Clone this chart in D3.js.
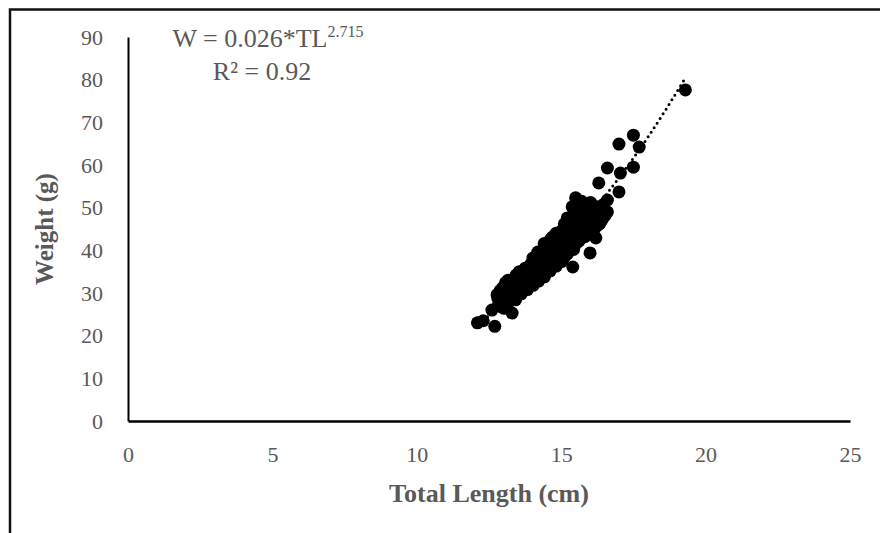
<!DOCTYPE html>
<html>
<head>
<meta charset="utf-8">
<script src="https://cdn.jsdelivr.net/npm/d3@7"></script>
<style>
  body { margin: 0; background: #fff; }
  svg { display: block; font-family: "Liberation Serif", "Times New Roman", serif; }
</style>
</head>
<body>
<div id="chart"></div>
<script>
// ------ DATA ------
// outliers / loose points first, then the dense band
const lengths = [
  12.1, 12.3, 12.7, 12.6, 12.8, 13.3, 13.1, 13.7, 14.5, 14.7, 15.4, 16.0, 16.2,
  15.5, 16.45, 16.6, 16.3, 17.0, 16.6, 17.05, 17.5, 17.0, 17.5, 17.7, 19.3,
  12.83, 12.78, 12.92, 12.88, 13.04, 12.97, 13.02, 13.12, 13.07, 13.18, 13.23, 13.16,
  13.33, 13.27, 13.42, 13.36, 13.44, 13.52, 13.47, 13.55, 13.62, 13.58, 13.65,
  13.72, 13.66, 13.75, 13.83, 13.77, 13.86, 13.92, 13.87, 13.95,
  14.03, 13.97, 14.05, 14.02, 14.12, 14.07, 14.15, 14.22, 14.17, 14.24, 14.19,
  14.33, 14.27, 14.36, 14.42, 14.38, 14.45, 14.41, 14.53, 14.48, 14.55,
  14.62, 14.57, 14.66, 14.63, 14.72, 14.68, 14.75, 14.83, 14.77, 14.86, 14.82,
  14.92, 14.88, 14.95, 15.03, 14.97, 15.05, 15.02, 15.12, 15.07, 15.15, 15.11,
  15.22, 15.17, 15.25, 15.21, 15.32, 15.28, 15.35, 15.43, 15.37, 15.45, 15.41, 15.38,
  15.52, 15.47, 15.55, 15.51, 15.62, 15.58, 15.65, 15.61, 15.72, 15.67, 15.75, 15.71,
  15.82, 15.77, 15.85, 15.81, 15.92, 15.87, 15.95, 16.03, 15.97, 16.05, 16.02,
  16.12, 16.07, 16.15, 16.22, 16.17, 16.25, 16.33, 16.28, 16.42, 16.37, 16.52, 16.47, 16.6
]
const weights = [
  23.0, 23.5, 22.2, 26.0, 28.8, 25.3, 31.9, 34.7, 40.8, 43.1, 36.1, 39.4, 42.9,
  52.3, 48.3, 51.8, 55.8, 53.7, 59.3, 58.1, 59.5, 64.9, 67.0, 64.2, 77.6,
  27.3, 29.6, 26.8, 30.5, 28.2, 31.2, 26.4, 29.0, 32.4, 27.8, 30.0, 33.0,
  29.5, 32.0, 28.4, 31.0, 34.2, 30.2, 33.5, 35.0, 29.8, 32.0, 34.6,
  31.0, 33.6, 35.8, 30.8, 33.0, 35.5, 32.0, 34.5, 36.8,
  31.8, 34.0, 36.5, 38.2, 33.0, 35.5, 37.5, 32.8, 35.0, 37.8, 39.6,
  34.0, 36.5, 38.8, 33.8, 37.0, 39.8, 41.6, 35.5, 38.0, 41.2,
  35.2, 37.5, 40.5, 42.6, 36.5, 39.5, 41.8, 36.3, 38.5, 41.5, 44.0,
  37.5, 40.0, 42.8, 37.4, 39.5, 42.5, 44.6, 38.5, 41.0, 43.8, 46.2,
  39.2, 42.5, 45.2, 47.6, 40.5, 43.5, 46.2, 40.2, 42.5, 45.0, 48.2, 50.2,
  41.6, 44.0, 47.0, 49.2, 42.2, 45.5, 48.0, 50.6, 43.5, 46.0, 49.0, 51.5,
  43.2, 45.5, 48.5, 50.4, 44.0, 47.0, 49.8, 45.0, 47.5, 49.5, 51.2,
  44.6, 46.5, 49.0, 45.6, 48.0, 50.2, 46.2, 49.0, 47.2, 50.0, 48.2, 50.8, 49.0
]

// trendline
const trendLengths = [12.0, 13.0, 14.0, 15.0, 16.0, 17.0, 18.0, 19.3]
const trendWeights = [22.1, 27.5, 33.6, 40.6, 48.3, 57.0, 66.5, 80.4]

const xTicks = [0, 5, 10, 15, 20, 25]
const yTicks = [0, 10, 20, 30, 40, 50, 60, 70, 80, 90]

// ------ LAYOUT ------
const width = 880, height = 533
const plotLeft = 128, plotRight = 850, plotTop = 37, plotBottom = 421
const grey = "#595959"

const svg = d3.select("#chart").append("svg")
  .attr("width", width)
  .attr("height", height)

// outer frame (only top and left edges are visible)
svg.append("path")
  .attr("d", "M10,540 L10,9.5 L890,9.5")
  .attr("fill", "none")
  .attr("stroke", "#111")
  .attr("stroke-width", 2.5)

const x = d3.scaleLinear().domain([0, 25]).range([plotLeft, plotRight])
const y = d3.scaleLinear().domain([0, 90]).range([plotBottom, plotTop])

// axes
const xAxis = svg.append("g")
  .attr("transform", `translate(0,${plotBottom})`)
  .call(d3.axisBottom(x).tickValues(xTicks).tickSize(0).tickPadding(25))
xAxis.select(".domain").attr("stroke", "#000").attr("stroke-width", 2.5)
xAxis.selectAll("text")
  .attr("fill", grey)
  .attr("font-size", 22)
  .attr("font-family", "Liberation Serif")

const yAxis = svg.append("g")
  .attr("transform", `translate(${plotLeft},0)`)
  .call(d3.axisLeft(y).tickValues(yTicks).tickSize(0).tickPadding(25))
yAxis.select(".domain").attr("stroke", "#000").attr("stroke-width", 2)
yAxis.selectAll("text")
  .attr("fill", grey)
  .attr("font-size", 22)
  .attr("font-family", "Liberation Serif")

// axis titles
svg.append("text")
  .attr("x", (plotLeft + plotRight) / 2)
  .attr("y", 502)
  .attr("text-anchor", "middle")
  .attr("font-weight", "bold")
  .attr("font-size", 26)
  .attr("fill", grey)
  .text("Total Length (cm)")

svg.append("text")
  .attr("transform", `translate(53,${(plotTop + plotBottom) / 2}) rotate(-90)`)
  .attr("text-anchor", "middle")
  .attr("font-weight", "bold")
  .attr("font-size", 25)
  .attr("fill", grey)
  .text("Weight (g)")

// points
const points = lengths.map(function(d, i) { return {tl: d, w: weights[i]} })
svg.append("g")
  .selectAll("circle")
  .data(points)
  .join("circle")
  .attr("cx", function(d) { return x(d.tl) })
  .attr("cy", function(d) { return y(d.w) })
  .attr("r", 6.5)
  .attr("fill", "#000")

// dotted power trendline
const trend = trendLengths.map(function(d, i) { return [d, trendWeights[i]] })
const line = d3.line()
  .x(function(d) { return x(d[0]) })
  .y(function(d) { return y(d[1]) })
  .curve(d3.curveMonotoneX)
svg.append("path")
  .datum(trend)
  .attr("d", line)
  .attr("fill", "none")
  .attr("stroke", "#000")
  .attr("stroke-width", 3)
  .attr("stroke-linecap", "round")
  .attr("stroke-dasharray", "0,5.5")

// equation label
const eq = svg.append("g").attr("fill", grey).attr("font-size", 26)
const line1 = eq.append("text")
  .attr("x", 268)
  .attr("y", 47)
  .attr("text-anchor", "middle")
line1.append("tspan").text("W = 0.026*TL")
line1.append("tspan").attr("font-size", 16).attr("dy", -10).text("2.715")

eq.append("text")
  .attr("x", 262)
  .attr("y", 80)
  .attr("text-anchor", "middle")
  .text("R² = 0.92")
</script>
</body>
</html>
